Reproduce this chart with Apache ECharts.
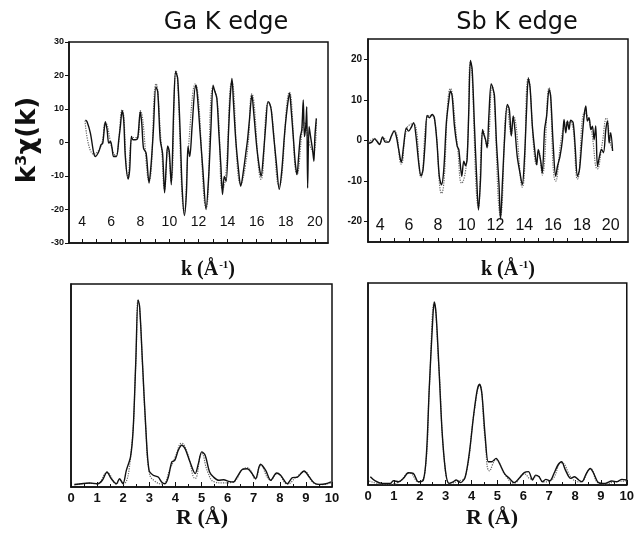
<!DOCTYPE html>
<html>
<head>
<meta charset="utf-8">
<script src="https://cdn.jsdelivr.net/npm/echarts@6/dist/echarts.min.js"></script>
<style>
  html, body { margin: 0; padding: 0; background: #fff; }
  #chart { width: 637px; height: 538px; }
</style>
</head>
<body>
<div id="chart"></div>
<script>
// k-space EXAFS, Ga K edge (solid = experiment, dotted = fit)
var gaK = [[4.23,6.7],[4.34,6.2],[4.57,2.8],[4.8,-3.2],[4.92,-4.2],[5.15,-2.7],[5.3,-0.7],[5.42,-0.2],[5.6,6.2],[5.72,3.8],[5.83,-0.2],[5.95,0.3],[6.06,-1.7],[6.17,-4.2],[6.36,-4.2],[6.52,0.8],[6.63,4.8],[6.75,9.5],[6.86,6.7],[6.97,-4.2],[7.16,-10.9],[7.27,-8.1],[7.39,1.8],[7.5,0.8],[7.66,0.8],[7.82,1.3],[8.0,9.2],[8.1,5.7],[8.22,-1.7],[8.4,-3.2],[8.6,-12.1],[8.75,-6.1],[8.9,3.8],[9.07,16.6],[9.2,15.1],[9.37,0.8],[9.53,-3.2],[9.67,-15],[9.78,-7.1],[9.88,-1],[9.99,-2.7],[10.13,-12.6],[10.3,10.7],[10.43,21.1],[10.57,19.1],[10.75,1.8],[10.87,-13.1],[11.03,-21.8],[11.17,-15],[11.28,-1.2],[11.4,-4.2],[11.56,4.8],[11.8,17.1],[11.9,15.1],[12.13,1.8],[12.3,-8.1],[12.52,-20],[12.7,-10.1],[12.85,3.8],[13.0,17.1],[13.1,15.6],[13.26,13.2],[13.4,2.8],[13.54,-7.1],[13.65,-15.5],[13.77,-10.1],[13.9,-11.6],[14.07,3.8],[14.18,13.7],[14.3,19.1],[14.4,12.2],[14.56,0.8],[14.75,-8.1],[14.9,-13.1],[15.1,-8.1],[15.28,-2.2],[15.37,0.8],[15.5,6.7],[15.67,14.2],[15.78,9.7],[16.0,-1.2],[16.17,-7.1],[16.3,-10.1],[16.47,-3.2],[16.63,5.7],[16.77,12.2],[16.88,11.7],[17.0,9.7],[17.16,2.3],[17.35,-6.1],[17.55,-14],[17.73,-8.1],[17.9,1.8],[18.08,9.7],[18.26,14.7],[18.37,9.7],[18.53,0.8],[18.65,-6.1],[18.77,-9.6],[18.88,-4.2],[19.0,1.8],[19.1,3.8],[19.2,12.7],[19.28,1.8],[19.37,4.8],[19.44,10.7],[19.5,-13.6],[19.6,4.8],[19.7,1.8],[19.84,-2.2],[19.93,-5.6],[20.0,1.8],[20.1,7.2]];
var gaKFit = [[4.2,6.5],[4.8,-3.5],[5.3,-1],[5.6,5.8],[6.1,-2.5],[6.3,-4],[6.75,9.8],[7.15,-10],[7.5,1.5],[7.8,1.5],[8.0,9.5],[8.6,-11.5],[9.08,17.5],[9.45,-1],[9.67,-14],[9.9,-1.5],[10.12,-11.5],[10.45,21.5],[11.03,-21],[11.3,-2],[11.78,17.5],[12.52,-19.5],[13.0,16.5],[13.3,12],[13.65,-14],[13.85,-11],[14.3,18],[14.9,-12.5],[15.35,-3],[15.67,14.5],[16.3,-11],[16.8,12],[17.0,10],[17.55,-13],[18.25,15],[18.78,-9.5],[19.3,6],[19.6,0],[19.9,-3],[20.1,6]];

// k-space EXAFS, Sb K edge
var sbK = [[3.19,-0.7],[3.42,-0.4],[3.6,0.4],[3.77,-0.2],[3.95,-1],[4.16,0.9],[4.35,-0.4],[4.58,-0.4],[4.77,1.1],[4.97,2.3],[5.11,1.1],[5.28,-2.2],[5.46,-5.4],[5.62,-1.4],[5.81,3.1],[5.97,2.3],[6.13,3.1],[6.32,4.4],[6.48,1.1],[6.67,-5.5],[6.83,-8.7],[6.97,-7.2],[7.13,0.2],[7.25,6.2],[7.41,5.6],[7.6,6.4],[7.76,5.6],[7.94,-0.6],[8.1,-8.8],[8.25,-10.9],[8.41,-7.2],[8.59,4.4],[8.76,9.8],[8.87,12.2],[8.99,11],[9.15,3.6],[9.34,-1.4],[9.45,-2.2],[9.57,-6.4],[9.66,-8.8],[9.8,-5.1],[9.92,-6.2],[10.03,-4.7],[10.15,7.7],[10.26,19.7],[10.38,17.6],[10.54,3.6],[10.68,-8],[10.82,-17.1],[10.96,-9.7],[11.1,2.7],[11.19,1.5],[11.31,0.2],[11.42,-1.8],[11.54,6],[11.7,13.9],[11.84,12.6],[11.93,11],[12.07,-0.6],[12.24,-10.5],[12.35,-19.4],[12.49,-9.7],[12.63,0.2],[12.82,8.9],[12.96,7.7],[13.1,1.1],[13.23,6],[13.35,2.7],[13.51,-3.9],[13.7,-8],[13.86,-10.9],[14.02,-3.9],[14.16,7.7],[14.28,15.3],[14.4,13.1],[14.56,3.6],[14.72,-2.2],[14.86,-6],[14.97,-2.2],[15.14,-5.1],[15.25,-8],[15.41,2.7],[15.55,6],[15.72,12.6],[15.83,11],[16.0,-0.6],[16.18,-8.8],[16.3,-6.4],[16.48,-3.9],[16.65,0.2],[16.76,5.2],[16.88,1.9],[16.99,4.8],[17.11,2.7],[17.22,5],[17.39,4.4],[17.53,-1.4],[17.69,-8.8],[17.83,-7.2],[17.99,-0.6],[18.15,6],[18.27,8.5],[18.38,4.8],[18.5,5.6],[18.62,2.7],[18.73,3.5],[18.85,0.2],[18.96,3.6],[19.08,-6.4],[19.22,-3.9],[19.36,-2.2],[19.5,-3],[19.66,2.7],[19.78,4.8],[19.89,-0.6],[20.0,1.9],[20.13,-2.6]];
var sbKFit = [[3.2,-0.5],[3.6,0.5],[3.95,-0.8],[4.2,0.8],[4.5,-0.3],[4.97,2.5],[5.46,-5.8],[5.85,3],[6.3,4.2],[6.83,-9],[7.3,6],[7.6,6.2],[8.25,-13],[8.87,12.8],[9.35,-1],[9.66,-10.5],[10.0,-5],[10.26,19.3],[10.82,-16.5],[11.15,2.5],[11.42,-1.5],[11.75,13.5],[12.35,-18.5],[12.82,8.5],[13.1,1.5],[13.25,6],[13.86,-11.5],[14.28,15.5],[14.86,-6],[15.0,-2.5],[15.25,-8.5],[15.72,13],[16.18,-10],[16.8,4],[17.2,4.5],[17.69,-9.5],[18.2,7],[18.6,3.5],[19.08,-7],[19.4,-1],[19.7,5.5],[20.0,-1],[20.13,-2]];

// Fourier transforms (R space), arbitrary units
var gaR = [[0.13,1.2],[0.71,2],[1.03,1.6],[1.2,3.3],[1.38,7.4],[1.54,4.1],[1.74,1.6],[1.86,4.1],[1.99,1.6],[2.12,8.2],[2.28,14.8],[2.38,28],[2.48,60.9],[2.57,92.1],[2.63,88.8],[2.74,60.9],[2.87,28],[2.99,8.2],[3.15,5.8],[3.34,4.9],[3.47,2.5],[3.6,1.6],[3.73,4.9],[3.86,12.3],[3.98,13.2],[4.11,18.1],[4.24,20.6],[4.37,18.9],[4.56,12.3],[4.76,6.6],[4.88,11.5],[5.01,17.3],[5.14,15.6],[5.31,7.4],[5.46,4.9],[5.66,3.3],[5.85,3.6],[6.04,2.8],[6.23,2.5],[6.36,4.9],[6.56,8.6],[6.75,9],[6.94,6.6],[7.07,4.1],[7.26,11.2],[7.46,8.2],[7.65,3.3],[7.88,6.9],[8.03,5.8],[8.29,1.6],[8.48,4.6],[8.68,4.9],[8.93,7.9],[9.13,4.9],[9.32,2],[9.51,1.3],[9.77,1.6],[9.96,2.5]];
var gaRFit = [[0.13,1],[0.7,1.8],[1.0,1.5],[1.38,7],[1.74,1.5],[1.86,3.5],[2.0,1.5],[2.28,14.5],[2.48,60],[2.57,92],[2.63,88],[2.74,60],[2.87,28],[3.0,7],[3.2,3],[3.5,1.5],[3.8,9],[4.0,15],[4.24,21.5],[4.45,17],[4.76,4.2],[5.01,16.5],[5.25,7],[5.5,2.5],[5.85,2],[6.2,2.5],[6.6,9],[6.75,9.5],[7.07,4],[7.26,10.5],[7.65,3.5],[7.9,6.5],[8.3,1.5],[8.6,4.5],[8.95,7.5],[9.3,2],[9.6,1.2],[9.96,2]];
var sbR = [[0.09,4.1],[0.28,2],[0.54,0.8],[0.86,0.8],[0.98,2.1],[1.18,1.6],[1.37,3.3],[1.56,6.1],[1.75,5.8],[1.94,1.6],[2.14,2.5],[2.26,15.7],[2.37,48.6],[2.48,76.6],[2.56,90.6],[2.63,84.8],[2.74,58.5],[2.86,27.2],[2.99,7.4],[3.12,0.8],[3.29,1.6],[3.41,2.5],[3.58,1.2],[3.76,4.1],[3.93,17.3],[4.09,35.4],[4.22,47],[4.31,49.9],[4.4,45.3],[4.53,23.9],[4.65,11.5],[4.78,11.5],[4.95,13.2],[5.08,10.7],[5.27,5.8],[5.46,3.3],[5.65,1.2],[5.84,3.3],[6.04,6.1],[6.2,6.6],[6.36,2.5],[6.48,4.9],[6.61,4.1],[6.74,1.6],[6.87,2.8],[7.03,2.1],[7.19,5.8],[7.34,9.9],[7.48,11.5],[7.63,7.4],[7.83,3.3],[7.98,4.1],[8.14,2.5],[8.27,1.6],[8.44,5.8],[8.59,8.2],[8.72,5.8],[8.91,1.2],[9.17,0.8],[9.42,2],[9.62,1.6],[9.81,2.8],[10,2.5]];
var sbRFit = [[0.05,2],[0.3,1],[0.6,0.5],[0.9,0.5],[1.2,1.5],[1.6,6],[1.95,1.5],[2.2,6],[2.37,48],[2.56,90],[2.74,58],[2.99,7],[3.2,1],[3.5,2],[3.76,4],[4.09,35],[4.31,49.5],[4.53,22],[4.7,7],[4.95,12.5],[5.3,5],[5.65,1],[6.04,5.5],[6.3,3],[6.55,4.5],[6.8,1.5],[7.1,2.5],[7.48,11],[7.9,3],[8.2,1.5],[8.6,8],[8.9,1],[9.2,0.5],[9.5,1.5],[10,2]];

// tick labels
var kLabels = [4, 6, 8, 10, 12, 14, 16, 18, 20];
var kTicks = [4, 5, 6, 7, 8, 9, 10, 11, 12, 13, 14, 15, 16, 17, 18, 19, 20];
var sbKLabels = [-20, -10, 0, 10, 20];

var chart = echarts.init(document.getElementById("chart"));

var black = "#111";
function box(left, top, width, height) {
  return { left: left, top: top, width: width, height: height, show: true,
    borderColor: black, borderWidth: 1.5, backgroundColor: "transparent" };
}
function kAxis(idx, min, max, margin, size) {
  return {
    gridIndex: idx, type: "value", min: min, max: max,
    axisLine: { onZero: false, lineStyle: { color: black, width: 1.5 } },
    axisTick: { inside: true, length: 4, customValues: kTicks, lineStyle: { color: black } },
    axisLabel: { inside: true, margin: margin, customValues: kLabels, color: black,
      fontSize: size, fontFamily: "Liberation Sans" },
    splitLine: { show: false }
  };
}
function rAxis(idx) {
  return {
    gridIndex: idx, type: "value", min: 0, max: 10, interval: 1,
    axisLine: { onZero: false, lineStyle: { color: black, width: 1.5 } },
    axisTick: { inside: true, length: 5, lineStyle: { color: black } },
    minorTick: { show: true, splitNumber: 2, length: 3, lineStyle: { color: black } },
    axisLabel: { margin: 5, color: black, fontSize: 13, fontWeight: "bold", fontFamily: "Liberation Sans" },
    splitLine: { show: false }
  };
}
function line(idx, data, fit) {
  return {
    type: "line", xAxisIndex: idx, yAxisIndex: idx, data: data,
    showSymbol: false, smooth: fit ? 0.5 : 0.3, silent: true,
    z: fit ? 2 : 3,
    lineStyle: fit ? { color: "#666", width: 1.2, type: "dotted" } : { color: black, width: 1.4 }
  };
}

var supRich = {
  a: { fontSize: 20, fontWeight: "bold", fontFamily: "Liberation Serif", fill: black },
  s: { fontSize: 11, fontWeight: "bold", fontFamily: "Liberation Serif", fill: black, verticalAlign: "top", padding: [0, 0, 10, 1] }
};

var option = {
  animation: false,
  grid: [box(69, 42, 259, 201), box(368, 39, 260, 203), box(71, 284, 261, 203), box(368, 283, 262, 202)],
  xAxis: [kAxis(0, 3.1, 20.9, 14, 14), kAxis(1, 3.15, 21.2, 8, 16), rAxis(2), rAxis(3)],
  yAxis: [
    { gridIndex: 0, type: "value", min: -30, max: 30, interval: 10,
      axisLine: { onZero: false, lineStyle: { color: black, width: 1.5 } },
      axisTick: { length: 4, lineStyle: { color: black } },
      axisLabel: { margin: 5, color: black, fontSize: 9, fontWeight: "bold", fontFamily: "Liberation Sans" },
      splitLine: { show: false } },
    { gridIndex: 1, type: "value", min: -25, max: 25,
      axisLine: { onZero: false, lineStyle: { color: black, width: 1.5 } },
      axisTick: { length: 4, customValues: sbKLabels, lineStyle: { color: black } },
      axisLabel: { margin: 6, customValues: sbKLabels, color: black, fontSize: 10, fontWeight: "bold", fontFamily: "Liberation Sans" },
      splitLine: { show: false } },
    { gridIndex: 2, type: "value", min: 0, max: 100, axisLabel: { show: false }, axisTick: { show: false },
      axisLine: { onZero: false, lineStyle: { color: black, width: 1.5 } }, splitLine: { show: false } },
    { gridIndex: 3, type: "value", min: 0, max: 100, axisLabel: { show: false }, axisTick: { show: false },
      axisLine: { onZero: false, lineStyle: { color: black, width: 1.5 } }, splitLine: { show: false } }
  ],
  series: [
    line(0, gaKFit, true), line(0, gaK, false),
    line(1, sbKFit, true), line(1, sbK, false),
    line(2, gaRFit, true), line(2, gaR, false),
    line(3, sbRFit, true), line(3, sbR, false)
  ],
  graphic: [
    { type: "text", x: 226, y: 23, style: { text: "Ga K edge", fill: black, font: "24px 'DejaVu Sans'", align: "center", verticalAlign: "middle" } },
    { type: "text", x: 517, y: 23, style: { text: "Sb K edge", fill: black, font: "24px 'DejaVu Sans'", align: "center", verticalAlign: "middle" } },
    { type: "text", x: 28, y: 140, rotation: Math.PI / 2,
      style: { text: "k³χ(k)", fill: black, font: "bold 26px 'DejaVu Sans'", align: "center", verticalAlign: "middle" } },
    { type: "text", x: 208, y: 270, style: { text: "{a|k (Å}{s|-1}{a|)}", rich: supRich, align: "center", verticalAlign: "middle" } },
    { type: "text", x: 508, y: 270, style: { text: "{a|k (Å}{s|-1}{a|)}", rich: supRich, align: "center", verticalAlign: "middle" } },
    { type: "text", x: 202, y: 518, style: { text: "R (Å)", fill: black, font: "bold 22px 'Liberation Serif'", align: "center", verticalAlign: "middle" } },
    { type: "text", x: 492, y: 518, style: { text: "R (Å)", fill: black, font: "bold 22px 'Liberation Serif'", align: "center", verticalAlign: "middle" } }
  ]
};

chart.setOption(option);
</script>
</body>
</html>
